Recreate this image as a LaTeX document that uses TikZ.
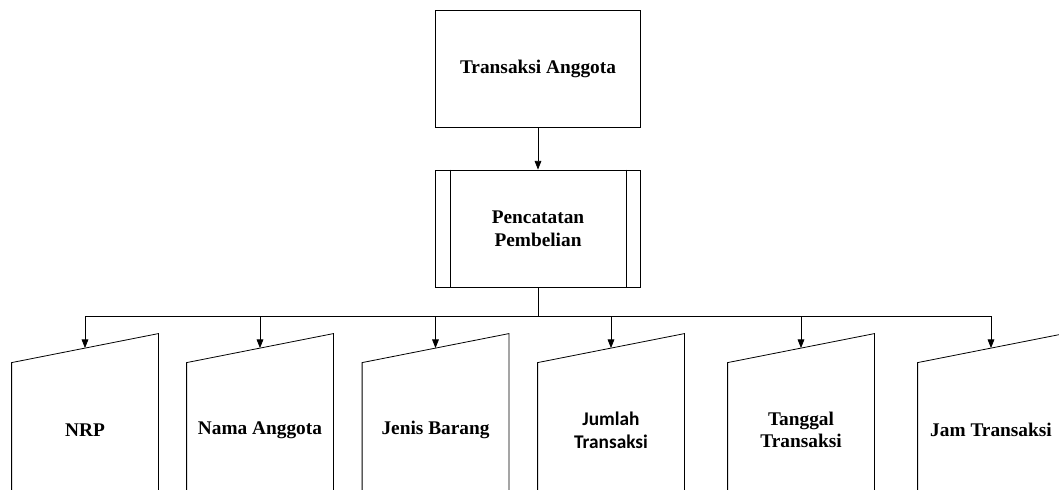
\documentclass[tikz,border=0pt]{standalone}
\usepackage{fontspec}
\setmainfont{Liberation Serif}
\newfontfamily\calibri{Carlito}
\usetikzlibrary{arrows.meta,calc}

\begin{document}
\begin{tikzpicture}[x=0.75pt, y=-0.75pt, line width=0.6pt,
    every node/.style={align=center, font=\fontsize{14.5}{17}\selectfont\bfseries},
    arrow/.style={-{Triangle[length=6.5pt,width=5pt]}},
    box/.style={draw, minimum width=153.75pt, minimum height=87.75pt},
    data/.style={minimum width=109.5pt, minimum height=144pt}]
      \useasboundingbox (0,0) rectangle (1059,489);
      \clip (0,0) rectangle (1059,489);

      % Top - source
      \node (anggota) [box] at (538,68.5) {Transaksi Anggota};

      % Middle - predefined process
      \node (catat) [box] at (538,228.5) {Pencatatan\\Pembelian};
      \draw ($(catat.north west)+(15,0)$) -- ($(catat.south west)+(15,0)$);
      \draw ($(catat.north east)+(-15,0)$) -- ($(catat.south east)+(-15,0)$);
      \draw[arrow] (anggota) -- (catat);

      % Bottom - manual input
      \node (nrp) [data] at (85,430) {NRP};
      \node (nama) [data] at (260,430) {Nama Anggota};
      \node (jenis) [data] at (435.5,430) {Jenis Barang};
      \node (jumlah) [data, font=\fontsize{14.5}{17.5}\selectfont\calibri\bfseries] at (611,430) {Jumlah\\Transaksi};
      \node (tanggal) [data] at (801,430) {Tanggal\\Transaksi};
      \node (jam) [data] at (991,430) {Jam Transaksi};

      \foreach \n in {nrp,nama,jenis,jumlah,tanggal,jam}{
        \draw (\n.south west) -- ($(\n.north west)+(0,29)$) -- (\n.north east) -- (\n.south east);
        \coordinate (\n-top) at ($(\n.north)+(0,14.5)$);
      }

      % Branches
      \coordinate (bus) at ($(catat.south)+(0,29)$);
      \draw (catat.south) -- (bus);
      \draw (bus -| nrp) -- (bus -| jam);
      \foreach \n in {nrp,nama,jenis,jumlah,tanggal,jam}
        \draw[arrow] (bus -| \n) -- (\n-top);

\end{tikzpicture}
\end{document}
